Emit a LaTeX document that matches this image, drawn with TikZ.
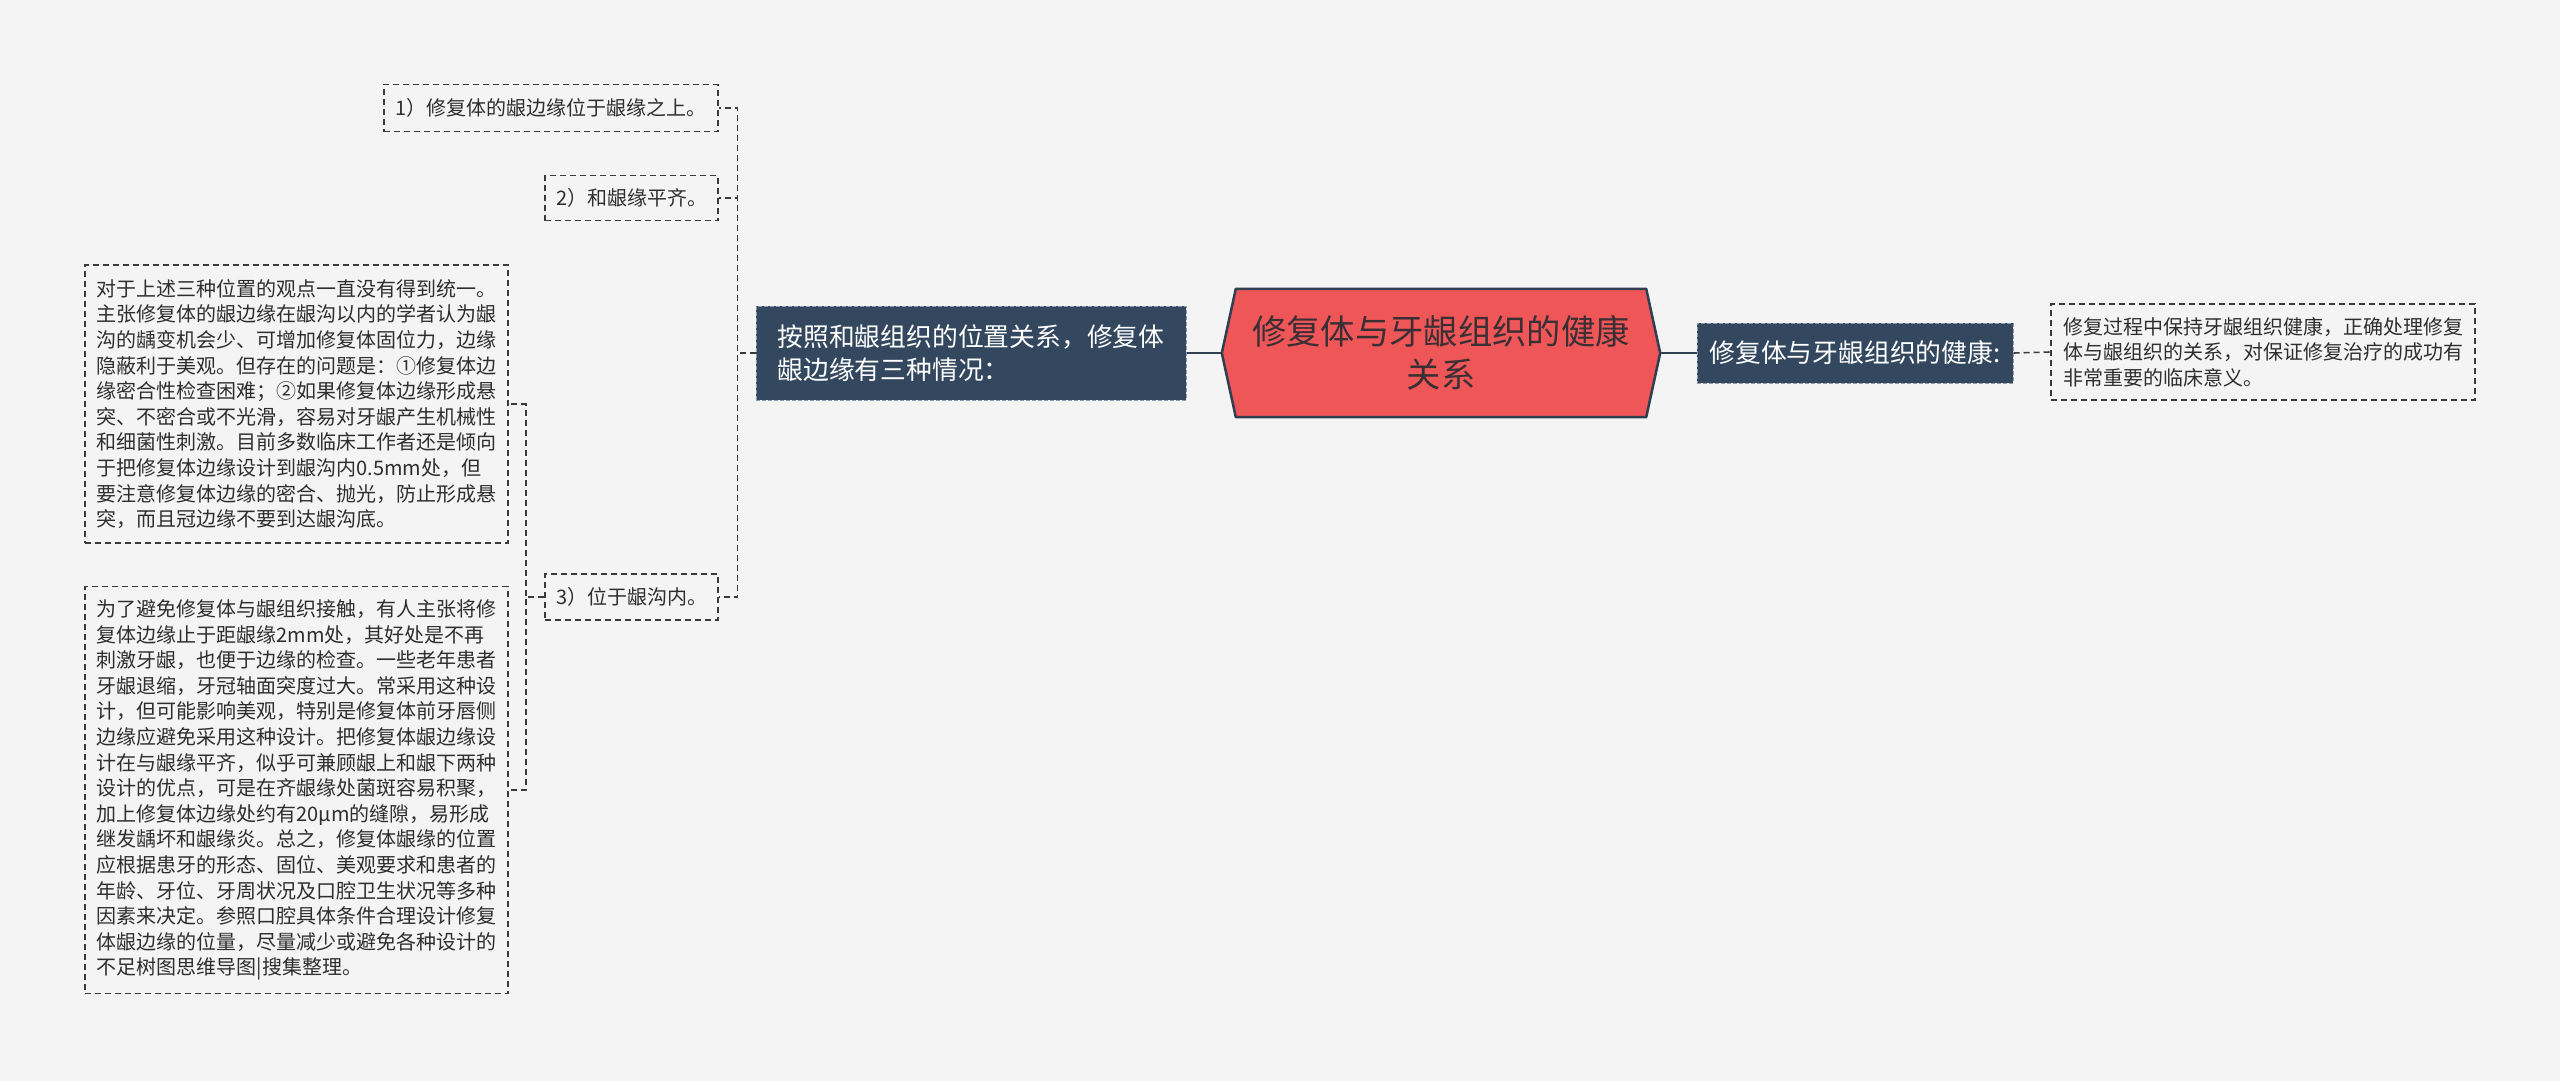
\documentclass[tikz,border=0pt]{standalone}
\usepackage{fontspec}
\setmainfont{Noto Sans CJK SC}
\pgfdeclarelayer{background}
\pgfsetlayers{background,main}

\definecolor{bgcol}{HTML}{F4F4F4}
\definecolor{mainfill}{HTML}{33485F}
\definecolor{mainline}{HTML}{8C9CB0}
\definecolor{rootfill}{HTML}{EF5657}
\definecolor{rootline}{HTML}{2F3E50}
\definecolor{roottext}{HTML}{3A2F35}
\definecolor{leafline}{HTML}{3A3A3A}
\definecolor{leaftext}{HTML}{2E2E2E}

\begin{document}
\begin{tikzpicture}[x=1pt,y=-1pt,
    leafbox/.style={draw=leafline,dash pattern=on 6pt off 4pt,line width=1.6pt,
      text=leaftext,align=left,inner sep=5pt,
      font=\fontsize{20}{25.6}\selectfont},
    mainbox/.style={fill=mainfill,draw=mainline,dash pattern=on 4pt off 2pt,
      line width=1pt,text=white,align=left,inner sep=4pt,
      font=\fontsize{25.8}{33}\selectfont},
    linkdash/.style={draw=leafline,dash pattern=on 6pt off 4pt,line width=1.6pt},
    linksolid/.style={draw=rootline,line width=2.5pt}]

      \useasboundingbox (0,0) rectangle (2560,1081);
      \begin{pgfonlayer}{background}
        \fill[bgcol] (0,0) rectangle (2560,1081);
      \end{pgfonlayer}

      % centre
      \node[align=center,minimum width=410,minimum height=128,text=roottext,
        font=\fontsize{34.3}{43}\selectfont] (root) at (1441,353)
        {修复体与牙龈组织的健康\\关系};
      \coordinate (rootW) at ([xshift=-14pt]root.west);
      \coordinate (rootE) at ([xshift=14pt]root.east);
      \begin{pgfonlayer}{background}
        \filldraw[fill=rootfill,draw=rootline,line width=2.5pt,line join=round]
          (root.north west) -- (root.north east) -- (rootE) --
          (root.south east) -- (root.south west) -- (rootW) -- cycle;
      \end{pgfonlayer}

      % branches
      \begin{scope}[every node/.style={mainbox}]
        \node[minimum width=430,minimum height=94] (lmain) at (971,353)
          {按照和龈组织的位置关系，修复体\\龈边缘有三种情况：};
        \node[minimum width=316,minimum height=60] (rmain) at (1855,353)
          {修复体与牙龈组织的健康:};
      \end{scope}

      % leaves
      \begin{scope}[every node/.style={leafbox}]
        \node[minimum width=334,minimum height=47,anchor=east] (c1) at (719,108)
          {1）修复体的龈边缘位于龈缘之上。};
        \node[minimum width=173,minimum height=45,anchor=east] (c2) at (719,198)
          {2）和龈缘平齐。};
        \node[minimum width=173,minimum height=46,anchor=east] (c3) at (719,597)
          {3）位于龈沟内。};
        \node[minimum width=423,minimum height=278,anchor=east] (nA) at (509,404)
          {对于上述三种位置的观点一直没有得到统一。\\
           主张修复体的龈边缘在龈沟以内的学者认为龈\\
           沟的龋变机会少、可增加修复体固位力，边缘\\
           隐蔽利于美观。但存在的问题是：①修复体边\\
           缘密合性检查困难；②如果修复体边缘形成悬\\
           突、不密合或不光滑，容易对牙龈产生机械性\\
           和细菌性刺激。目前多数临床工作者还是倾向\\
           于把修复体边缘设计到龈沟内0.5mm处，但\\
           要注意修复体边缘的密合、抛光，防止形成悬\\
           突，而且冠边缘不要到达龈沟底。};
        \node[minimum width=423,minimum height=407,anchor=east] (nB) at (509,790)
          {为了避免修复体与龈组织接触，有人主张将修\\
           复体边缘止于距龈缘2mm处，其好处是不再\\
           刺激牙龈，也便于边缘的检查。一些老年患者\\
           牙龈退缩，牙冠轴面突度过大。常采用这种设\\
           计，但可能影响美观，特别是修复体前牙唇侧\\
           边缘应避免采用这种设计。把修复体龈边缘设\\
           计在与龈缘平齐，似乎可兼顾龈上和龈下两种\\
           设计的优点，可是在齐龈缘处菌斑容易积聚，\\
           加上修复体边缘处约有20μm的缝隙，易形成\\
           继发龋坏和龈缘炎。总之，修复体龈缘的位置\\
           应根据患牙的形态、固位、美观要求和患者的\\
           年龄、牙位、牙周状况及口腔卫生状况等多种\\
           因素来决定。参照口腔具体条件合理设计修复\\
           体龈边缘的位量，尽量减少或避免各种设计的\\
           不足树图思维导图|搜集整理。};
        \node[minimum width=424,minimum height=96] (rleaf) at (2263,352)
          {修复过程中保持牙龈组织健康，正确处理修复\\
           体与龈组织的关系，对保证修复治疗的成功有\\
           非常重要的临床意义。};
      \end{scope}

      % links
      \draw[linksolid] (rootW) -- (lmain.east);
      \draw[linksolid] (rootE) -- (rmain.west);
      \draw[linkdash] (rmain.east) -- (rleaf.west);
      \draw[linkdash] (lmain.west) -- ++(-18,0) |- (c1.east);
      \draw[linkdash] (lmain.west) -- ++(-18,0) |- (c2.east);
      \draw[linkdash] (lmain.west) -- ++(-18,0) |- (c3.east);
      \draw[linkdash] (c3.west) -- ++(-18.5,0) |- (nA.east);
      \draw[linkdash] (c3.west) -- ++(-18.5,0) |- (nB.east);

    \end{tikzpicture}
\end{document}
